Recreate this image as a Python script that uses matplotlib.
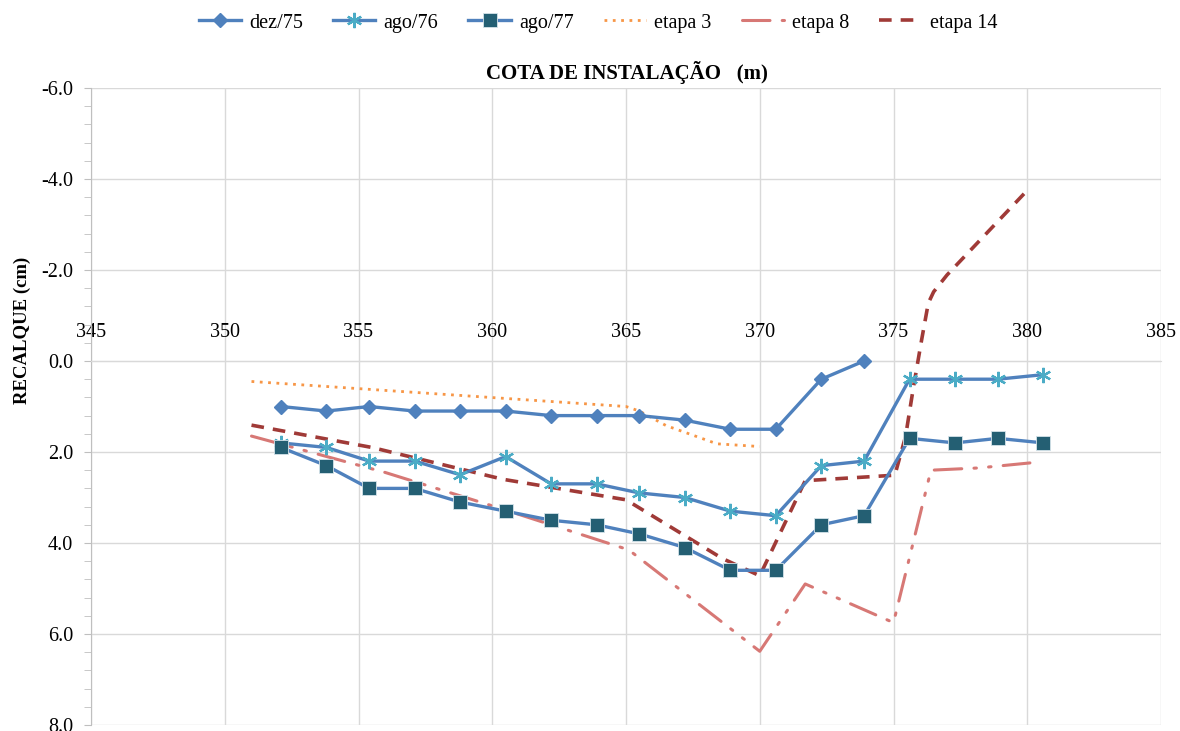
import matplotlib.pyplot as plt
from matplotlib.ticker import MultipleLocator, AutoMinorLocator, FormatStrFormatter

plt.rcParams['font.family'] = ['Liberation Serif', 'DejaVu Serif']

# cota de instalacao (m) of the measured plates
cota = [352.1, 353.8, 355.4, 357.1, 358.8, 360.5, 362.2, 363.9, 365.5,
        367.2, 368.9, 370.6, 372.3, 373.9, 375.6, 377.3, 378.9, 380.6]

# recalque (cm)
dez75 = [1.0, 1.1, 1.0, 1.1, 1.1, 1.1, 1.2, 1.2, 1.2, 1.3, 1.5, 1.5, 0.4, 0.0]
ago76 = [1.8, 1.9, 2.2, 2.2, 2.5, 2.1, 2.7, 2.7, 2.9, 3.0, 3.3, 3.4, 2.3, 2.2,
         0.4, 0.4, 0.4, 0.3]
ago77 = [1.9, 2.3, 2.8, 2.8, 3.1, 3.3, 3.5, 3.6, 3.8, 4.1, 4.6, 4.6, 3.6, 3.4,
         1.7, 1.8, 1.7, 1.8]

# computed stages
etapa3_x = [351.0, 365.0, 365.5, 366.5, 368.4, 370.0]
etapa3_y = [0.45, 1.0, 1.1, 1.42, 1.82, 1.88]

etapa8_x = [351.0, 356.0, 360.2, 365.1, 370.0, 371.7, 375.0, 376.4, 378.2, 380.1]
etapa8_y = [1.65, 2.45, 3.22, 4.15, 6.38, 4.9, 5.75, 2.4, 2.35, 2.24]

etapa14_x = [351.0, 355.5, 360.4, 365.0, 368.6, 370.0, 371.7, 375.05, 375.45,
             375.75, 376.05, 376.3, 376.5, 377.0, 380.0]
etapa14_y = [1.41, 1.9, 2.6, 3.05, 4.34, 4.72, 2.63, 2.51, 1.66,
             0.56, -0.46, -1.27, -1.52, -1.89, -3.75]

blue = '#4F81BD'

fig = plt.figure(figsize=(11.8, 7.31), dpi=100)
ax = fig.add_axes([91 / 1180, 1 - 725 / 731, 1070 / 1180, 637 / 731])

ax.plot(cota[:len(dez75)], dez75, color=blue, lw=2.4, marker='D', ms=7,
        mfc=blue, mec=blue, label='dez/75', zorder=4)
ax.plot(cota, ago76, color=blue, lw=2.4, marker=(6, 2, 0), ms=11,
        mec='#4BACC6', mew=1.6, label='ago/76', zorder=4)
ax.plot(cota, ago77, color=blue, lw=2.4, marker='s', ms=10,
        mfc='#245F73', mec='#d5e3ea', mew=0.6, label='ago/77', zorder=4)
ax.plot(etapa3_x, etapa3_y, color='#F79646', lw=2.0, ls=(0, (1, 2)),
        label='etapa 3', zorder=3)
ax.plot(etapa8_x, etapa8_y, color='#D77875', lw=2.2,
        ls=(0, (9, 4, 0.8, 4, 0.8, 4)), dash_capstyle='round',
        label='etapa 8', zorder=3)
ax.plot(etapa14_x, etapa14_y, color='#A03A37', lw=2.6, ls=(0, (3.5, 2.5)),
        label='etapa 14', zorder=3)

ax.set_xlim(345, 385)
ax.set_ylim(8, -6)
ax.xaxis.set_major_locator(MultipleLocator(5))
ax.yaxis.set_major_locator(MultipleLocator(2))
ax.yaxis.set_minor_locator(AutoMinorLocator(5))
ax.yaxis.set_major_formatter(FormatStrFormatter('%.1f'))
ax.grid(True, color='#D9D9D9', lw=1)
ax.set_axisbelow(True)

# x axis crosses at recalque = 0, labels above it
for s in ['bottom', 'right']:
    ax.spines[s].set_visible(False)
ax.spines['top'].set_position(('data', 0))
ax.spines['top'].set_color('#D9D9D9')
ax.spines['left'].set_color('#BFBFBF')
ax.xaxis.set_ticks_position('top')
ax.tick_params(axis='x', length=0, pad=14, labelsize=14.5)
ax.tick_params(axis='y', which='both', length=5, color='#BFBFBF',
               labelsize=14.5, pad=8)

ax.set_ylabel('RECALQUE (cm)', fontsize=13.5, fontweight='bold')
ax.yaxis.set_label_coords(-0.056, 0.62)

fig.text(627 / 1180, 1 - 73 / 731, 'COTA DE INSTALAÇÃO   (m)', ha='center',
         va='center', fontsize=15, fontweight='bold')

fig.legend(loc='center', bbox_to_anchor=(598 / 1180, 1 - 23 / 731), ncol=6,
           frameon=False, fontsize=14.5, handlelength=2.1, handletextpad=0.4,
           columnspacing=1.5)

fig.savefig('out.png', dpi=100)
